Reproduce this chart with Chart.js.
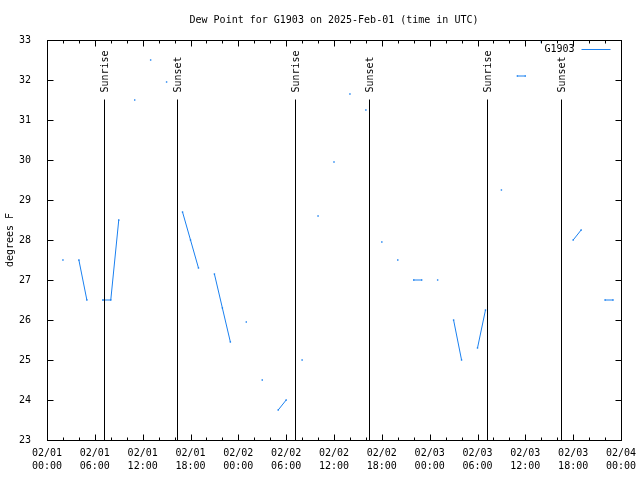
<!DOCTYPE html>
<html>
<head>
<meta charset="utf-8">
<script src="https://cdn.jsdelivr.net/npm/chart.js@4"></script>
<style>
  html, body { margin: 0; padding: 0; background: #fff; }
  #wrap { width: 640px; height: 480px; }
</style>
</head>
<body>
<div id="wrap"><canvas id="canvas" width="640" height="480"></canvas></div>
<script>
/* Dew point readings, hours after 02/01 00:00 UTC (null = gap) */
const dewHours = [2, 3, 4, 5, 6, 7, 8, 9, 10, 11, 12, 13, 14, 15, 16, 17, 18, 19, 20,
  21, 22, 23, 24, 25, 26, 27, 28, 29, 30, 31, 32, 33, 34, 35, 36, 37, 38, 39, 40,
  41, 42, 43, 44, 45, 46, 47, 48, 49, 50, 51, 52, 53, 54, 55, 56, 57, 58, 59, 60,
  61, 62, 63, 66, 67, 68, 70, 71];
const dewValues = [27.5, null, 27.5, 26.5, null, 26.5, 26.5, 28.5, null, 31.5, null, 32.5, null, 31.95, null, 28.7, 28.0, 27.3, null,
  27.15, 26.3, 25.45, null, 25.95, null, 24.5, null, 23.75, 24.0, null, 25.0, null, 28.6, null, 29.95, null, 31.65, null, 31.25,
  null, 27.95, null, 27.5, null, 27.0, 27.0, null, 27.0, null, 26.0, 25.0, null, 25.3, 26.25, null, 29.25, null, 32.1, 32.1,
  null, 32.95, null, 28.0, 28.25, null, 26.5, 26.5];

/* Sunrise / sunset markers (hours) */
const sunLabels = ["Sunrise", "Sunset", "Sunrise", "Sunset", "Sunrise", "Sunset"];
const sunHours = [7.19, 16.35, 31.15, 40.43, 55.23, 64.51];

/* X tick labels, every 6 hours */
const xTickLabels = [
  ["02/01", "00:00"], ["02/01", "06:00"], ["02/01", "12:00"], ["02/01", "18:00"],
  ["02/02", "00:00"], ["02/02", "06:00"], ["02/02", "12:00"], ["02/02", "18:00"],
  ["02/03", "00:00"], ["02/03", "06:00"], ["02/03", "12:00"], ["02/03", "18:00"],
  ["02/04", "00:00"]
];

const lineColor = "#1a80f0";
const monoFont = "'DejaVu Sans Mono', 'Liberation Mono', monospace";

let points = [];
for (let i = 0; i < dewHours.length; i++) {
  points.push({ x: dewHours[i], y: dewValues[i] });
}

/* Frame, inward ticks, sun markers and legend (gnuplot look) */
const gnuplotFrame = {
  id: "gnuplotFrame",
  afterDatasetsDraw(chart) {
    const ctx = chart.ctx;
    const area = chart.chartArea;
    const xs = chart.scales.x;
    const ys = chart.scales.y;
    ctx.save();
    ctx.strokeStyle = "#000";
    ctx.lineWidth = 1;

    // sunrise / sunset lines
    const lineTop = Math.round(area.top + (area.bottom - area.top) * 0.1475) + 0.5;
    ctx.font = "10px " + monoFont;
    ctx.fillStyle = "#000";
    for (let i = 0; i < sunHours.length; i++) {
      let px = Math.round(xs.getPixelForValue(sunHours[i])) + 0.5;
      ctx.beginPath();
      ctx.moveTo(px, lineTop);
      ctx.lineTo(px, area.bottom);
      ctx.stroke();
      ctx.save();
      ctx.translate(px + 1, lineTop - 7);
      ctx.rotate(-Math.PI / 2);
      ctx.textAlign = "left";
      ctx.textBaseline = "middle";
      ctx.fillText(sunLabels[i], 0, 0);
      ctx.restore();
    }

    // box
    const l = Math.round(area.left) + 0.5;
    const r = Math.round(area.right) + 0.5;
    const t = Math.round(area.top) + 0.5;
    const b = Math.round(area.bottom) + 0.5;
    ctx.strokeRect(l, t, r - l, b - t);

    // x ticks (major every 6 h, minor every 2 h)
    ctx.beginPath();
    for (let h = 2; h < 72; h += 2) {
      let px = Math.round(xs.getPixelForValue(h)) + 0.5;
      let len = h % 6 === 0 ? 6 : 3;
      ctx.moveTo(px, b);
      ctx.lineTo(px, b - len);
      ctx.moveTo(px, t);
      ctx.lineTo(px, t + len);
    }
    // y ticks
    for (let v = 24; v < 33; v++) {
      let py = Math.round(ys.getPixelForValue(v)) + 0.5;
      ctx.moveTo(l, py);
      ctx.lineTo(l + 6, py);
      ctx.moveTo(r, py);
      ctx.lineTo(r - 6, py);
    }
    ctx.stroke();

    // legend
    ctx.textAlign = "right";
    ctx.textBaseline = "middle";
    ctx.fillText(chart.data.datasets[0].label, r - 47, t + 9);
    ctx.strokeStyle = lineColor;
    ctx.beginPath();
    ctx.moveTo(r - 40, t + 9);
    ctx.lineTo(r - 11, t + 9);
    ctx.stroke();
    ctx.restore();
  }
};

const ctx = document.getElementById("canvas").getContext("2d");
window.myChart = new Chart(ctx, {
  type: "line",
  data: {
    datasets: [
      {
        label: "G1903",
        data: points,
        borderColor: lineColor,
        backgroundColor: lineColor,
        borderWidth: 1,
        pointStyle: "rect",
        pointRadius: 1,
        pointBorderWidth: 0,
        pointHoverRadius: 1,
        spanGaps: false,
        tension: 0,
      },
    ],
  },
  options: {
    responsive: false,
    animation: false,
    events: [],
    layout: {
      padding: { left: 0, right: 19, top: 0, bottom: 0 },
    },
    plugins: {
      legend: { display: false },
      tooltip: { enabled: false },
      title: {
        display: true,
        fullSize: false,
        text: "Dew Point for G1903 on 2025-Feb-01 (time in UTC)",
        color: "#000",
        font: { family: monoFont, size: 10, weight: "normal", lineHeight: 1.2 },
        padding: { top: 14, bottom: 14 },
      },
    },
    scales: {
      x: {
        type: "linear",
        min: 0,
        max: 72,
        afterFit: (scale) => { scale.height = 40; },
        afterBuildTicks: (scale) => {
          scale.ticks = xTickLabels.map((lab, i) => ({ value: i * 6 }));
        },
        ticks: {
          autoSkip: false,
          maxRotation: 0,
          minRotation: 0,
          padding: -1,
          color: "#000",
          font: { family: monoFont, size: 10, lineHeight: 1.3 },
          callback: (value) => xTickLabels[Math.round(value / 6)],
        },
        grid: { display: false },
        border: { display: false },
      },
      y: {
        min: 23,
        max: 33,
        afterFit: (scale) => { scale.width = 47; },
        ticks: {
          stepSize: 1,
          padding: 8,
          color: "#000",
          font: { family: monoFont, size: 10 },
        },
        title: {
          display: true,
          text: "degrees F",
          color: "#000",
          font: { family: monoFont, size: 10, lineHeight: 1.2 },
          padding: { top: 4, bottom: 0 },
        },
        grid: { display: false },
        border: { display: false },
      },
    },
  },
  plugins: [gnuplotFrame],
});
</script>
</body>
</html>
